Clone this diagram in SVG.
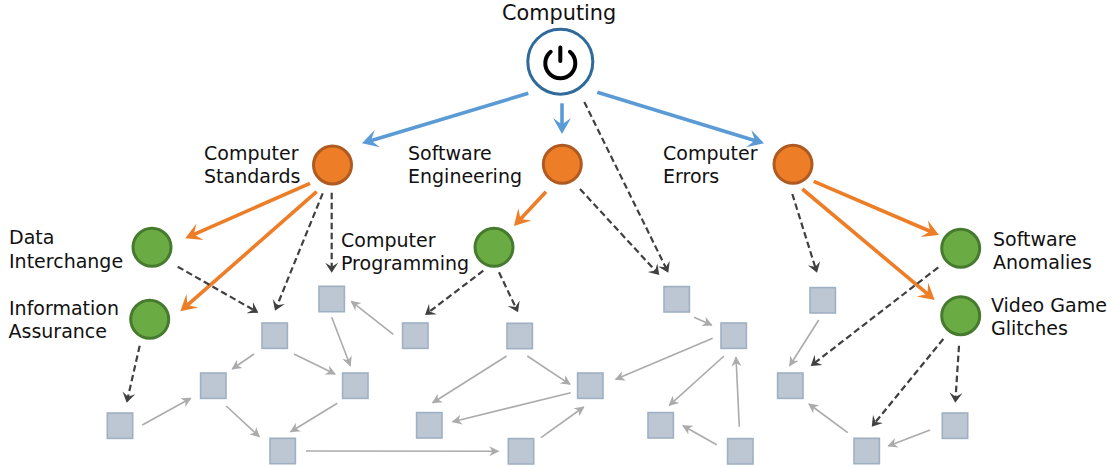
<svg xmlns="http://www.w3.org/2000/svg" width="1114" height="467" viewBox="0 0 1114 467">
<style>
text{font-family:"DejaVu Sans",Verdana,sans-serif;font-size:19px;fill:#111}
.o{fill:#ED7D26;stroke:#AE5A21;stroke-width:3}
.g{fill:#6AAB43;stroke:#467A2F;stroke-width:3}
.s{fill:#BCC7D3;stroke:#9FB0C3;stroke-width:1.6}
.b{fill:none;stroke:#5B9BD5;stroke-width:3.6;marker-end:url(#mb)}
.r{fill:none;stroke:#ED7D26;stroke-width:3.6;marker-end:url(#mo)}
.d{fill:none;stroke:#404040;stroke-width:2.2;stroke-dasharray:6.5 3.5;marker-end:url(#md)}
.y{fill:none;stroke:#ABABAB;stroke-width:1.6;marker-end:url(#my)}
</style>
<defs>
<marker id="mb" markerUnits="userSpaceOnUse" markerWidth="18" markerHeight="20" viewBox="0 0 18 20" refX="7" refY="10" orient="auto"><path d="M0 1L16 10L0 19L6.5 10Z" fill="#5B9BD5"/></marker>
<marker id="mo" markerUnits="userSpaceOnUse" markerWidth="18" markerHeight="20" viewBox="0 0 18 20" refX="7" refY="10" orient="auto"><path d="M0 1L16 10L0 19L6.5 10Z" fill="#ED7D26"/></marker>
<marker id="md" markerUnits="userSpaceOnUse" markerWidth="12" markerHeight="14" viewBox="0 0 12 14" refX="5" refY="7" orient="auto"><path d="M0 .5L10 7L0 13.5L4 7Z" fill="#404040"/></marker>
<marker id="my" markerUnits="userSpaceOnUse" markerWidth="11" markerHeight="12" viewBox="0 0 11 12" refX="9" refY="6" orient="auto"><path d="M0 1L10 6L0 11L3 6Z" fill="#ABABAB"/></marker>
</defs>
<g id="connectors">
<path class="b" d="M528.3 93.3L370.6 140.7"/>
<path class="b" d="M562 103.3V125"/>
<path class="b" d="M597.3 92.3L755.4 140.7"/>
<path class="r" d="M546 191.7L520.1 219.4"/>
<path class="r" d="M310 183.3L193.5 234.7"/>
<path class="r" d="M316.7 191.7L187.1 305.4"/>
<path class="r" d="M813.7 181.3L930.7 231.5"/>
<path class="r" d="M802.3 189L927.8 294.2"/>
<path class="d" d="M584.3 102L666.1 268.2"/>
<path class="d" d="M580 189L655.9 271.3"/>
<path class="d" d="M322.7 193.3L276.9 306.1"/>
<path class="d" d="M331.7 192.7V267.7"/>
<path class="d" d="M177.7 266.7L254 310.2"/>
<path class="d" d="M139.7 345.7L127.8 397.8"/>
<path class="d" d="M483.3 270.7L429 312"/>
<path class="d" d="M499 272.3L515.9 307.8"/>
<path class="d" d="M792.3 194L815.5 268"/>
<path class="d" d="M938.3 267.3L814.7 362.9"/>
<path class="d" d="M943.3 339L874.9 422.8"/>
<path class="d" d="M959 345.7L955.6 397.7"/>
<path class="y" d="M254 354L232.3 369"/>
<path class="y" d="M294 354L335 374"/>
<path class="y" d="M331.7 317.3L350.3 365.7"/>
<path class="y" d="M393.3 334.3L351.3 301.3"/>
<path class="y" d="M142.3 425L190.7 398.3"/>
<path class="y" d="M226.3 406L259.3 436.7"/>
<path class="y" d="M337.3 403.3L290.7 431.7"/>
<path class="y" d="M306 451L498.3 451.3"/>
<path class="y" d="M506.7 356L432.7 402.7"/>
<path class="y" d="M527.3 356L570 384.3"/>
<path class="y" d="M570.7 392.7L452.7 421.7"/>
<path class="y" d="M541 437.7L583.7 407"/>
<path class="y" d="M712.7 338.3L615.7 379.3"/>
<path class="y" d="M694 317.3L711.7 325"/>
<path class="y" d="M724 356L669.3 405.3"/>
<path class="y" d="M739.3 426.7L736 357.3"/>
<path class="y" d="M716.7 444.7L683 425.7"/>
<path class="y" d="M818.7 320L789.7 365.7"/>
<path class="y" d="M847.7 432.7L809 404"/>
<path class="y" d="M930 430L888.3 446"/>
</g>
<g id="computing">
<circle cx="560.3" cy="61.7" r="32.5" fill="#fff" stroke="#2F6A9B" stroke-width="3"/>
<path d="M550.7 51.8A15 15 0 1 0 569.9 51.8M560.3 47.5V61" fill="none" stroke="#000" stroke-width="4" stroke-linecap="round"/>
<text x="502" y="20" style="font-size:20.8px">Computing</text>
</g>
<g id="computer-standards"><circle class="o" cx="332.5" cy="165" r="19"/><text x="204" y="159.5">Computer</text><text x="204" y="183">Standards</text></g>
<g id="software-engineering"><circle class="o" cx="562.3" cy="164.3" r="19"/><text x="408" y="159.5">Software</text><text x="408" y="183">Engineering</text></g>
<g id="computer-errors"><circle class="o" cx="793" cy="164.3" r="19"/><text x="663" y="159.5">Computer</text><text x="663" y="183">Errors</text></g>
<g id="data-interchange"><circle class="g" cx="152" cy="247.3" r="19"/><text x="9" y="244">Data</text><text x="9" y="267.5">Interchange</text></g>
<g id="information-assurance"><circle class="g" cx="149.7" cy="319.3" r="19"/><text x="9" y="315">Information</text><text x="8.500" y="338">Assurance</text></g>
<g id="computer-programming"><circle class="g" cx="494" cy="247.3" r="19"/><text x="341" y="247">Computer</text><text x="341" y="270">Programming</text></g>
<g id="software-anomalies"><circle class="g" cx="960.7" cy="248.3" r="19"/><text x="993" y="245.5">Software</text><text x="993" y="268.5">Anomalies</text></g>
<g id="video-game-glitches"><circle class="g" cx="960.7" cy="315.7" r="19"/><text x="991" y="311.5">Video Game</text><text x="991" y="334.5">Glitches</text></g>
<g id="squares">
<rect id="n1" class="s" x="319" y="286.3" width="25.4" height="25.4"/>
<rect id="n2" class="s" x="262" y="323" width="25.4" height="25.4"/>
<rect id="n3" class="s" x="200.6" y="373" width="25.4" height="25.4"/>
<rect id="n4" class="s" x="342.6" y="373" width="25.4" height="25.4"/>
<rect id="n5" class="s" x="107.3" y="413" width="25.4" height="25.4"/>
<rect id="n6" class="s" x="270" y="438.3" width="25.4" height="25.4"/>
<rect id="n7" class="s" x="402.6" y="323" width="25.4" height="25.4"/>
<rect id="n8" class="s" x="507" y="323.3" width="25.4" height="25.4"/>
<rect id="n9" class="s" x="577.6" y="373" width="25.4" height="25.4"/>
<rect id="n10" class="s" x="416.6" y="412.6" width="25.4" height="25.4"/>
<rect id="n11" class="s" x="508.3" y="438.6" width="25.4" height="25.4"/>
<rect id="n12" class="s" x="664" y="286.6" width="25.4" height="25.4"/>
<rect id="n13" class="s" x="721" y="323" width="25.4" height="25.4"/>
<rect id="n14" class="s" x="648" y="412.6" width="25.4" height="25.4"/>
<rect id="n15" class="s" x="727.6" y="438.6" width="25.4" height="25.4"/>
<rect id="n16" class="s" x="810" y="287.6" width="25.4" height="25.4"/>
<rect id="n17" class="s" x="777.6" y="373" width="25.4" height="25.4"/>
<rect id="n18" class="s" x="942.3" y="413" width="25.4" height="25.4"/>
<rect id="n19" class="s" x="854" y="438.3" width="25.4" height="25.4"/>
</g>
</svg>
